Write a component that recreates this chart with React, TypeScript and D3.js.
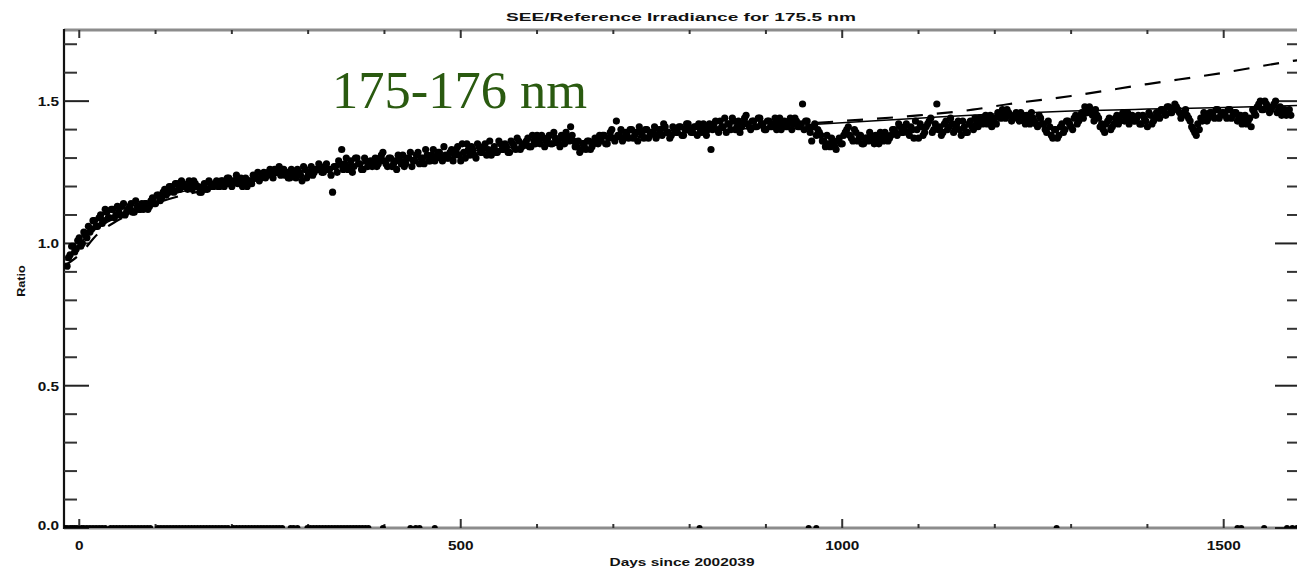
import React from "react";
import * as d3 from "d3";

const TITLE = "SEE/Reference Irradiance for 175.5 nm";
const X_LABEL = "Days since 2002039";
const Y_LABEL = "Ratio";
const ANNOTATION = "175-176 nm";

const X_MAJOR = [0, 500, 1000, 1500];
const X_MINOR = [100, 200, 300, 400, 600, 700, 800, 900, 1100, 1200, 1300, 1400, 1600];
const Y_MAJOR = [0, 0.5, 1.0, 1.5];
const Y_MAJOR_LABELS = ["0.0", "0.5", "1.0", "1.5"];
const Y_MINOR = [0.1, 0.2, 0.3, 0.4, 0.6, 0.7, 0.8, 0.9, 1.1, 1.2, 1.3, 1.4, 1.6, 1.7];

// measurements (set A): one value every 4 days starting at day -16
const DAY_START_A = -16;
const DAY_STEP = 4;
const ratioA = [
  0.92, 0.96, 0.99, 0.98, 1.02, 1.00, 1.03, 1.06, 1.05, 1.08, 1.06, 1.10, 1.08, 1.11, 1.09, 1.12, 1.10, 1.11, 1.13, 1.10, 1.12, 1.14, 1.11, 1.13, 1.12,
  1.12, 1.14, 1.13, 1.16, 1.14, 1.17, 1.16, 1.19, 1.18, 1.20, 1.18, 1.21, 1.19, 1.21, 1.20, 1.22, 1.19, 1.21, 1.20, 1.18, 1.21, 1.19, 1.21, 1.20, 1.22,
  1.20, 1.22, 1.21, 1.23, 1.20, 1.22, 1.21, 1.23, 1.21, 1.20, 1.22, 1.24, 1.23, 1.22, 1.24, 1.23, 1.25, 1.24, 1.26, 1.25, 1.24, 1.26, 1.25, 1.23, 1.25,
  1.23, 1.25, 1.22, 1.26, 1.24, 1.27, 1.25, 1.26, 1.27, 1.25, 1.28, 1.26, 1.18, 1.27, 1.29, 1.33, 1.28, 1.26, 1.29, 1.27, 1.30, 1.28, 1.26, 1.29, 1.28,
  1.27, 1.30, 1.28, 1.31, 1.29, 1.27, 1.30, 1.28, 1.26, 1.29, 1.31, 1.28, 1.30, 1.27, 1.29, 1.32, 1.30, 1.28, 1.31, 1.29, 1.33, 1.30, 1.32, 1.29, 1.31,
  1.30, 1.33, 1.31, 1.34, 1.29, 1.32, 1.35, 1.31, 1.33, 1.30, 1.34, 1.32, 1.35, 1.33, 1.31, 1.34, 1.32, 1.35, 1.33, 1.34, 1.32, 1.35, 1.33, 1.36, 1.34,
  1.35, 1.37, 1.34, 1.36, 1.38, 1.35, 1.37, 1.36, 1.38, 1.35, 1.37, 1.36, 1.38, 1.35, 1.37, 1.41, 1.36, 1.34, 1.32, 1.35, 1.33, 1.36, 1.34, 1.37, 1.35,
  1.36, 1.38, 1.35, 1.39, 1.37, 1.43, 1.38, 1.36, 1.39, 1.37, 1.40, 1.38, 1.36, 1.39, 1.37, 1.40, 1.38, 1.39, 1.37, 1.40, 1.38, 1.41, 1.39, 1.38, 1.40,
  1.39, 1.41, 1.38, 1.42, 1.40, 1.39, 1.41, 1.42, 1.39, 1.41, 1.40, 1.33, 1.42, 1.40, 1.43, 1.41, 1.39, 1.42, 1.44, 1.40, 1.43, 1.41, 1.44, 1.42, 1.40,
  1.43, 1.41, 1.44, 1.42, 1.40, 1.43, 1.41, 1.44, 1.42, 1.40, 1.43, 1.41, 1.44, 1.42, 1.43, 1.41, 1.49, 1.43, 1.41, 1.36, 1.42, 1.40, 1.38, 1.36, 1.38,
  1.34, 1.36, 1.33, 1.37, 1.35, 1.39, 1.41, 1.37, 1.40, 1.36, 1.38, 1.35, 1.37, 1.39, 1.36, 1.38, 1.35, 1.37, 1.39, 1.36, 1.38, 1.40, 1.38, 1.41, 1.39,
  1.42, 1.38, 1.40, 1.43, 1.37, 1.41, 1.39, 1.42, 1.44, 1.40, 1.49, 1.41, 1.39, 1.43, 1.41, 1.42, 1.40, 1.43, 1.38, 1.41, 1.39, 1.43, 1.40, 1.42, 1.44,
  1.42, 1.45, 1.43, 1.41, 1.44, 1.46, 1.44, 1.45, 1.47, 1.45, 1.44, 1.46, 1.43, 1.45, 1.42, 1.44, 1.46, 1.43, 1.41, 1.44, 1.42, 1.39, 1.41, 1.37, 1.40,
  1.38, 1.42, 1.40, 1.43, 1.41, 1.44, 1.42, 1.45, 1.44, 1.46, 1.48, 1.45, 1.47, 1.44, 1.42, 1.39, 1.43, 1.40, 1.42, 1.45, 1.43, 1.46, 1.44, 1.42, 1.45,
  1.43, 1.45, 1.42, 1.44, 1.41, 1.45, 1.43, 1.46, 1.44, 1.47, 1.45, 1.48, 1.46, 1.49, 1.47, 1.44, 1.46, 1.45, 1.43, 1.40, 1.38, 1.40, 1.43, 1.45, 1.44,
  1.46, 1.44, 1.47, 1.45, 1.46, 1.44, 1.47, 1.45, 1.46, 1.44, 1.42, 1.45, 1.43, 1.41, 1.46, 1.48, 1.50, 1.47, 1.49, 1.46, 1.48, 1.50, 1.47, 1.45, 1.47,
  1.46, 1.45,
];

// measurements (set B): one value every 4 days starting at day -14
const DAY_START_B = -14;
const ratioB = [
  0.95, 0.99, 0.97, 1.01, 0.99, 1.04, 1.02, 1.04, 1.08, 1.06, 1.09, 1.07, 1.12, 1.09, 1.12, 1.09, 1.13, 1.10, 1.14, 1.11, 1.13, 1.11, 1.15, 1.12, 1.14,
  1.14, 1.12, 1.15, 1.14, 1.17, 1.15, 1.18, 1.17, 1.20, 1.19, 1.21, 1.19, 1.22, 1.20, 1.19, 1.21, 1.22, 1.20, 1.18, 1.20, 1.19, 1.22, 1.20, 1.21, 1.20,
  1.22, 1.20, 1.23, 1.21, 1.22, 1.24, 1.22, 1.20, 1.23, 1.22, 1.21, 1.23, 1.25, 1.23, 1.25, 1.24, 1.26, 1.23, 1.25, 1.27, 1.26, 1.24, 1.23, 1.26, 1.24,
  1.26, 1.24, 1.27, 1.23, 1.25, 1.24, 1.26, 1.28, 1.25, 1.27, 1.26, 1.24, 1.27, 1.25, 1.28, 1.26, 1.30, 1.27, 1.25, 1.30, 1.28, 1.26, 1.30, 1.27, 1.29,
  1.29, 1.27, 1.30, 1.32, 1.28, 1.30, 1.27, 1.29, 1.31, 1.28, 1.27, 1.30, 1.32, 1.29, 1.31, 1.28, 1.30, 1.33, 1.29, 1.31, 1.29, 1.32, 1.30, 1.34, 1.30,
  1.32, 1.29, 1.33, 1.31, 1.35, 1.30, 1.33, 1.34, 1.31, 1.35, 1.32, 1.34, 1.31, 1.36, 1.33, 1.32, 1.36, 1.33, 1.35, 1.32, 1.36, 1.34, 1.37, 1.33, 1.35,
  1.36, 1.34, 1.38, 1.35, 1.36, 1.38, 1.34, 1.37, 1.35, 1.39, 1.36, 1.34, 1.37, 1.39, 1.36, 1.38, 1.34, 1.36, 1.33, 1.34, 1.36, 1.33, 1.35, 1.36, 1.38,
  1.38, 1.35, 1.37, 1.40, 1.36, 1.38, 1.40, 1.37, 1.38, 1.40, 1.37, 1.39, 1.41, 1.38, 1.40, 1.37, 1.39, 1.41, 1.38, 1.40, 1.42, 1.39, 1.37, 1.41, 1.39,
  1.41, 1.38, 1.40, 1.42, 1.39, 1.41, 1.38, 1.40, 1.42, 1.38, 1.42, 1.40, 1.43, 1.39, 1.41, 1.44, 1.42, 1.40, 1.43, 1.41, 1.39, 1.42, 1.45, 1.41, 1.43,
  1.41, 1.44, 1.42, 1.40, 1.43, 1.41, 1.42, 1.40, 1.44, 1.42, 1.41, 1.43, 1.40, 1.44, 1.41, 1.42, 1.40, 1.43, 1.39, 1.41, 1.38, 1.39, 1.36, 1.34, 1.35,
  1.37, 1.34, 1.36, 1.35, 1.38, 1.40, 1.38, 1.36, 1.39, 1.37, 1.35, 1.37, 1.36, 1.38, 1.35, 1.37, 1.39, 1.36, 1.38, 1.37, 1.40, 1.39, 1.42, 1.39, 1.41,
  1.39, 1.41, 1.37, 1.40, 1.42, 1.38, 1.41, 1.43, 1.39, 1.42, 1.40, 1.38, 1.42, 1.40, 1.44, 1.39, 1.42, 1.40, 1.43, 1.39, 1.42, 1.41, 1.44, 1.41, 1.43,
  1.44, 1.42, 1.45, 1.43, 1.42, 1.45, 1.47, 1.44, 1.46, 1.43, 1.45, 1.44, 1.46, 1.43, 1.45, 1.42, 1.44, 1.42, 1.45, 1.42, 1.40, 1.43, 1.38, 1.40, 1.37,
  1.41, 1.39, 1.43, 1.42, 1.40, 1.45, 1.43, 1.46, 1.48, 1.46, 1.47, 1.43, 1.45, 1.41, 1.40, 1.42, 1.44, 1.41, 1.44, 1.42, 1.45, 1.43, 1.46, 1.44, 1.43,
  1.44, 1.42, 1.45, 1.43, 1.46, 1.42, 1.44, 1.45, 1.47, 1.46, 1.48, 1.46, 1.47, 1.48, 1.46, 1.45, 1.47, 1.44, 1.41, 1.39, 1.42, 1.44, 1.46, 1.43, 1.46,
  1.45, 1.47, 1.44, 1.46, 1.45, 1.47, 1.44, 1.46, 1.43, 1.45, 1.44, 1.42, 1.44, 1.47, 1.45, 1.49, 1.47, 1.50, 1.48, 1.47, 1.49, 1.46, 1.48, 1.46, 1.45,
  1.47,
];

// days with flagged (zero) ratio values
const zeroDays = [
  -19, -16, -12, -9, -6, -3, 3, 6, 10, 14, 18, 22, 26, 30, 34, 41, 45, 49, 53, 57, 61, 65, 69, 73, 77, 81, 85, 89, 93,
  103, 107, 111, 115, 119, 123, 127, 131, 135, 139, 143, 147, 151, 155, 159, 163, 167, 171, 175, 179, 183, 187, 191, 195,
  202, 206, 210, 214, 218, 222, 226, 230, 234, 238, 242, 246, 250, 254, 258, 262, 266, 277, 281, 286,
  299, 303, 307, 311, 315, 319, 323, 327, 331, 335, 339, 343, 347, 351, 355, 359, 363, 367, 371, 375, 379,
  398, 434, 441, 446, 466, 813, 956, 966, 1281, 1518, 1523, 1553, 1583, 1590, 1596,
];

// solid fit
const fitDays = [-18, 0, 50, 100, 200, 300, 400, 500, 600, 680, 800, 900, 1000, 1100, 1200, 1300, 1400, 1500, 1600];
const fitValues = [0.94, 1.0, 1.095, 1.155, 1.215, 1.255, 1.29, 1.32, 1.345, 1.366, 1.39, 1.408, 1.424, 1.44, 1.455, 1.465, 1.472, 1.478, 1.485];

// dashed fit
const dashDays = [-20, 0, 25, 50, 100, 200, 300, 400, 500, 600, 700, 800, 900, 1000, 1100, 1171, 1219, 1300, 1400, 1500, 1580, 1600];
const dashValues = [0.92, 0.96, 1.035, 1.08, 1.14, 1.205, 1.25, 1.285, 1.315, 1.34, 1.365, 1.39, 1.41, 1.43, 1.45, 1.47, 1.49, 1.518, 1.56, 1.6, 1.637, 1.645];

const W = 1297;
const H = 571;
const L = 64;
const R = 1300;
const T = 30;
const B = 528;

export default function App() {
  const x = d3.scaleLinear().domain([-20, 1600]).range([L, R]);
  const y = d3.scaleLinear().domain([0, 1.75]).range([B, T]);

  const pts = [
    ...ratioA.map((v, i) => ({ d: DAY_START_A + i * DAY_STEP, v })),
    ...ratioB.map((v, i) => ({ d: DAY_START_B + i * DAY_STEP, v })),
  ];
  const fitLine = d3
    .line<number>()
    .x((_, i) => x(fitDays[i]))
    .y((v) => y(v))
    .curve(d3.curveMonotoneX);
  const dashLine = d3
    .line<number>()
    .x((_, i) => x(dashDays[i]))
    .y((v) => y(v))
    .curve(d3.curveMonotoneX);

  const axisFont = "'Liberation Sans', Arial, sans-serif";
  const lbl = (tx: number, ty: number, s: string, anchor: string, key?: string | number, size = 12) => (
    <text
      key={key}
      transform={`translate(${tx},${ty}) scale(1.28,1)`}
      textAnchor={anchor as any}
      fontFamily={axisFont}
      fontWeight="bold"
      fontSize={size}
      fill="#111"
    >
      {s}
    </text>
  );

  return (
    <div style={{ position: "absolute", left: 0, top: 0 }}>
      <svg width={W} height={H} style={{ display: "block", background: "#fff" }}>
        <defs>
          <clipPath id="plotclip">
            <rect x={L} y={T} width={R - L} height={B - T} />
          </clipPath>
        </defs>

        {/* title */}
        <text
          x={681}
          y={21}
          textAnchor="middle"
          textLength={350}
          lengthAdjust="spacingAndGlyphs"
          fontFamily={axisFont}
          fontWeight="bold"
          fontSize={11.5}
          fill="#111"
        >
          {TITLE}
        </text>

        {/* frame */}
        <line x1={L} x2={R} y1={T} y2={T} stroke="#8c8c8c" strokeWidth={3} />
        <line x1={L} x2={R} y1={B} y2={B} stroke="#8c8c8c" strokeWidth={3} />
        <line x1={L} x2={L} y1={T - 1} y2={B + 1} stroke="#111" strokeWidth={2.2} />
        <line x1={R} x2={R} y1={T - 1} y2={B + 1} stroke="#111" strokeWidth={2.2} />

        {/* y ticks */}
        {Y_MAJOR.map((v) => (
          <g key={"ym" + v}>
            <line x1={L} x2={L + 25} y1={y(v)} y2={y(v)} stroke="#222" strokeWidth={2} />
            <line x1={R} x2={R - 25} y1={y(v)} y2={y(v)} stroke="#222" strokeWidth={2} />
          </g>
        ))}
        {Y_MINOR.map((v) => (
          <g key={"yn" + v}>
            <line x1={L} x2={L + 13} y1={y(v)} y2={y(v)} stroke="#333" strokeWidth={2} />
            <line x1={R} x2={R - 13} y1={y(v)} y2={y(v)} stroke="#333" strokeWidth={2} />
          </g>
        ))}
        {Y_MAJOR.map((v, i) => lbl(59, y(v) + 5 - (v === 0 ? 3 : 0), Y_MAJOR_LABELS[i], "end", "yl" + v, 12))}

        {/* x ticks */}
        {X_MAJOR.map((v) => (
          <g key={"xm" + v}>
            <line x1={x(v)} x2={x(v)} y1={B} y2={B - 9} stroke="#333" strokeWidth={2} />
            <line x1={x(v)} x2={x(v)} y1={T} y2={T + 8} stroke="#333" strokeWidth={2} />
          </g>
        ))}
        {X_MINOR.map((v) => (
          <g key={"xn" + v}>
            <line x1={x(v)} x2={x(v)} y1={B} y2={B - 4} stroke="#333" strokeWidth={2} />
            <line x1={x(v)} x2={x(v)} y1={T} y2={T + 4} stroke="#333" strokeWidth={2} />
          </g>
        ))}
        {X_MAJOR.map((v) => lbl(x(v), 550, String(v), "middle", "xl" + v, 12))}

        {/* axis titles */}
        <text
          x={682}
          y={566}
          textAnchor="middle"
          textLength={145}
          lengthAdjust="spacingAndGlyphs"
          fontFamily={axisFont}
          fontWeight="bold"
          fontSize={11.5}
          fill="#111"
        >
          {X_LABEL}
        </text>
        <text
          transform="translate(25,281) rotate(-90) scale(1.15,1)"
          textAnchor="middle"
          fontFamily={axisFont}
          fontWeight="bold"
          fontSize={11}
          fill="#111"
        >
          {Y_LABEL}
        </text>

        {/* data */}
        <g clipPath="url(#plotclip)">
          <path d={dashLine(dashValues) || ""} fill="none" stroke="#000" strokeWidth={2.2} strokeDasharray="16 14" />
          <path d={fitLine(fitValues) || ""} fill="none" stroke="#000" strokeWidth={1.5} />
          {pts.map((p, i) => (
            <circle key={i} cx={x(p.d)} cy={y(p.v)} r={3.6} fill="#000" />
          ))}
          {zeroDays.map((d, i) => (
            <circle key={"z" + i} cx={x(d)} cy={y(0)} r={3} fill="#000" />
          ))}
        </g>

        {/* annotation */}
        <text x={332} y={108} fontFamily="'Liberation Serif', 'Times New Roman', serif" fontSize={52.5} fill="#2a5a10">
          {ANNOTATION}
        </text>
      </svg>
    </div>
  );
}
